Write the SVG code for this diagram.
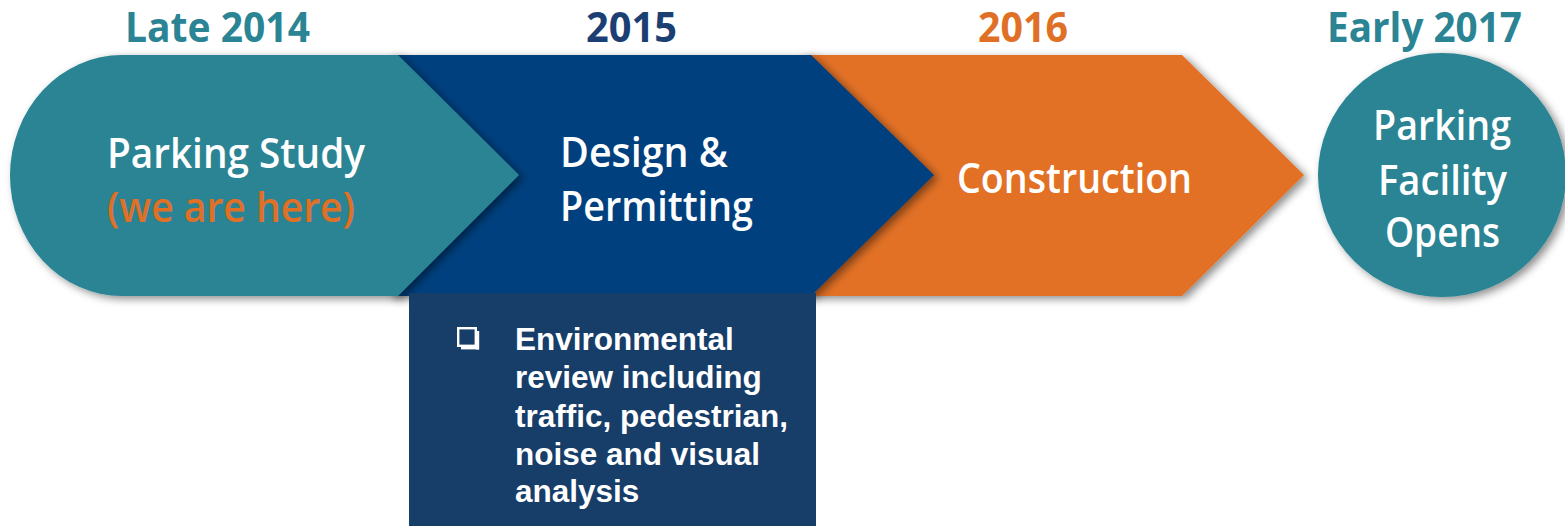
<svg xmlns="http://www.w3.org/2000/svg" width="1565" height="526" viewBox="0 0 1565 526">
<defs>
<filter id="sh" x="-10%" y="-10%" width="130%" height="130%">
<feDropShadow dx="4" dy="3" stdDeviation="4" flood-color="#000" flood-opacity="0.45"/>
</filter>
<style>
.yr{font-family:"Open Sans","Noto Sans",sans-serif;font-weight:700;font-size:42px}
.lb{font-family:"Open Sans","Noto Sans",sans-serif;font-weight:600;font-size:42px;fill:#fff}
.bx{font-family:"Liberation Sans",Arial,sans-serif;font-weight:700;font-size:31.5px;fill:#fff}
</style>
</defs>
<rect width="1565" height="526" fill="#fff"/>
<g id="years">
<text class="yr" x="125" y="42" fill="#2A8494" textLength="185" lengthAdjust="spacingAndGlyphs">Late 2014</text>
<text class="yr" x="586" y="42" fill="#1B3F73" textLength="91" lengthAdjust="spacingAndGlyphs">2015</text>
<text class="yr" x="978" y="42" fill="#E07026" textLength="90" lengthAdjust="spacingAndGlyphs">2016</text>
<text class="yr" x="1327" y="42" fill="#2A8494" textLength="195" lengthAdjust="spacingAndGlyphs">Early 2017</text>
</g>
<g id="construction">
<path d="M800,55 L1182,55 L1304,175 L1182,296 L800,296 Z" fill="#E27127" filter="url(#sh)"/>
<text class="lb" x="957" y="193" textLength="235" lengthAdjust="spacingAndGlyphs">Construction</text>
</g>
<g id="design">
<path d="M390,55 L811,55 L934,175 L811,296 L390,296 Z" fill="#003F7E" filter="url(#sh)"/>
<text class="lb" x="560" y="167" textLength="168" lengthAdjust="spacingAndGlyphs">Design &amp;</text>
<text class="lb" x="560" y="221" textLength="193" lengthAdjust="spacingAndGlyphs">Permitting</text>
</g>
<g id="study">
<path d="M122,55 L398,55 L519,175 L398,296 L122,296 A112,120.5 0 0 1 122,55 Z" fill="#2A8494" filter="url(#sh)"/>
<text class="lb" x="107" y="168" textLength="258" lengthAdjust="spacingAndGlyphs">Parking Study</text>
<text class="lb" x="107" y="222" textLength="248" lengthAdjust="spacingAndGlyphs" style="fill:#E07026">(we are here)</text>
</g>
<g id="opens">
<ellipse cx="1442" cy="175" rx="124" ry="122" fill="#2A8494" filter="url(#sh)"/>
<text class="lb" x="1373" y="140" textLength="138" lengthAdjust="spacingAndGlyphs">Parking</text>
<text class="lb" x="1378" y="195" textLength="129" lengthAdjust="spacingAndGlyphs">Facility</text>
<text class="lb" x="1385" y="247" textLength="115" lengthAdjust="spacingAndGlyphs">Opens</text>
</g>
<g id="details">
<rect x="409" y="293" width="407" height="233" fill="#173D69"/>
<g id="bullet" fill="#fff">
<rect x="458.2" y="328.2" width="17.6" height="17.6" fill="none" stroke="#fff" stroke-width="2.4"/>
<rect x="476" y="331" width="3.2" height="18.5"/>
<rect x="461" y="346.2" width="18" height="3.2"/>
</g>
<text class="bx" x="515" y="350">Environmental</text>
<text class="bx" x="515" y="388">review including</text>
<text class="bx" x="515" y="427">traffic, pedestrian,</text>
<text class="bx" x="515" y="465">noise and visual</text>
<text class="bx" x="515" y="502">analysis</text>
</g>
<g id="connectors"></g>
</svg>
